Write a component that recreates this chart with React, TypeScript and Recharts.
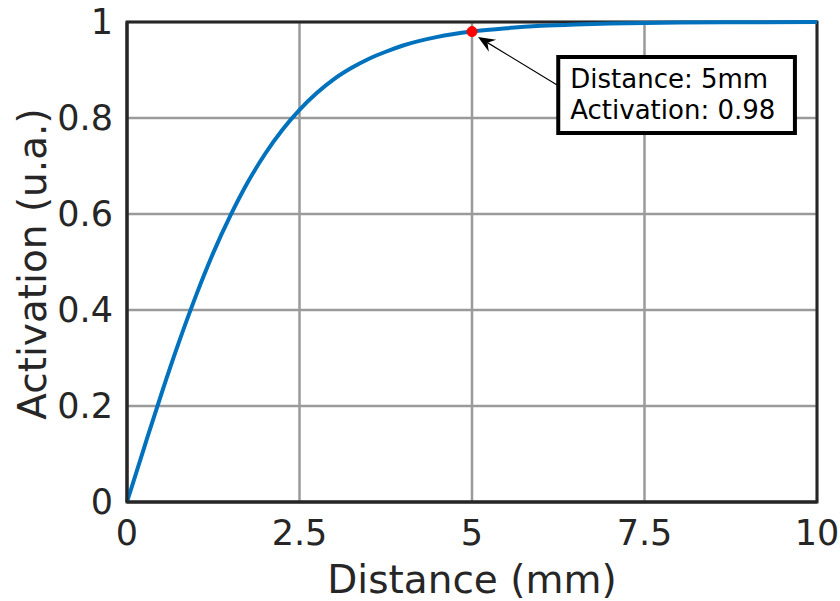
import React from 'react'
import {
  CartesianGrid,
  Label,
  Line,
  LineChart,
  ReferenceArea,
  ReferenceDot,
  ReferenceLine,
  XAxis,
  YAxis,
} from 'recharts'

// values
const distance = [
  0, 0.25, 0.5, 0.75, 1, 1.25, 1.5, 1.75, 2, 2.25, 2.5, 2.75, 3, 3.25, 3.5,
  3.75, 4, 4.5, 5, 5.5, 6, 6.5, 7, 8, 9, 10,
]
const activation = [
  0, 0.114, 0.226, 0.332, 0.43, 0.519, 0.597, 0.666, 0.725, 0.775, 0.817,
  0.852, 0.881, 0.904, 0.923, 0.938, 0.951, 0.969, 0.98, 0.987, 0.992, 0.995,
  0.997, 0.999, 0.9995, 1,
]
const xTicks = [0, 2.5, 5, 7.5, 10]
const yTicks = [0, 0.2, 0.4, 0.6, 0.8, 1]

const marker = { d: 5, a: 0.98 }
const noteLines = ['Distance: 5mm', 'Activation: 0.98']
// annotation box and arrow, in data units
const noteBox = { x1: 6.25, x2: 9.68, y1: 0.769, y2: 0.927 }
const arrowFrom = { x: 6.275, y: 0.865 }
const arrowTo = { x: 5.087, y: 0.969 }

const data = distance.map((d, i) => ({ d, a: activation[i] }))

const FONT = 'DejaVu Sans, sans-serif'
const AXIS = '#262626'

const Arrow = (props: any) => {
  const { x1, y1, x2, y2 } = props
  const ang = Math.atan2(y2 - y1, x2 - x1)
  const len = 17
  const w = 7
  const bx = x2 - len * Math.cos(ang)
  const by = y2 - len * Math.sin(ang)
  const px = -Math.sin(ang) * w
  const py = Math.cos(ang) * w
  const nx = bx + len * 0.35 * Math.cos(ang)
  const ny = by + len * 0.35 * Math.sin(ang)
  return (
    <g>
      <line x1={x1} y1={y1} x2={nx} y2={ny} stroke="#000" strokeWidth={1.2} />
      <polygon
        points={`${x2},${y2} ${bx + px},${by + py} ${nx},${ny} ${bx - px},${by - py}`}
        fill="#000"
      />
    </g>
  )
}

const NoteText = (props: any) => {
  const { x, y } = props.viewBox
  return (
    <text fontFamily={FONT} fontSize={26} fill="#000">
      {noteLines.map((t, i) => (
        <tspan key={t} x={x + 12} y={y + 31 + i * 31}>
          {t}
        </tspan>
      ))}
    </text>
  )
}

const YTitle = () => (
  <text
    x={46}
    y={264}
    transform="rotate(-90, 46, 264)"
    textAnchor="middle"
    fontFamily={FONT}
    fontSize={39}
    fill={AXIS}
  >
    Activation (u.a.)
  </text>
)

export default function App() {
  return (
    <div style={{ position: 'absolute', left: 0, top: 0, background: '#fff' }}>
      <LineChart
        width={840}
        height={601}
        data={data}
        margin={{ top: 22, right: 23, left: 0, bottom: 0 }}
      >
        <CartesianGrid stroke="#9a9a9a" strokeWidth={2.5} />
        <XAxis
          dataKey="d"
          type="number"
          domain={[0, 10]}
          ticks={xTicks}
          height={99}
          tickSize={0}
          tickMargin={18}
          axisLine={{ stroke: AXIS, strokeWidth: 3 }}
          tick={{ fill: AXIS, fontSize: 35, fontFamily: FONT }}
        >
          <Label
            value="Distance (mm)"
            position="insideBottom"
            offset={8}
            fill={AXIS}
            fontSize={39}
            fontFamily={FONT}
          />
        </XAxis>
        <YAxis
          type="number"
          domain={[0, 1]}
          ticks={yTicks}
          width={127}
          tickSize={0}
          tickMargin={14}
          axisLine={{ stroke: AXIS, strokeWidth: 3 }}
          tick={{ fill: AXIS, fontSize: 35, fontFamily: FONT }}
        >
          <Label content={<YTitle />} />
        </YAxis>
        <ReferenceArea
          x1={0}
          x2={10}
          y1={0}
          y2={1}
          fill="none"
          stroke={AXIS}
          strokeWidth={3}
        />
        <ReferenceArea
          {...noteBox}
          fill="#fff"
          fillOpacity={1}
          stroke="#000"
          strokeWidth={4}
          label={<NoteText />}
        />
        <ReferenceLine
          segment={[arrowFrom, arrowTo]}
          stroke="#000"
          shape={<Arrow />}
        />
        <Line
          type="monotone"
          dataKey="a"
          stroke="#0072BD"
          strokeWidth={4}
          dot={false}
          isAnimationActive={false}
        />
        <ReferenceDot
          x={marker.d}
          y={marker.a}
          r={5}
          fill="#ff0000"
          stroke="#ff0000"
        />
      </LineChart>
    </div>
  )
}
